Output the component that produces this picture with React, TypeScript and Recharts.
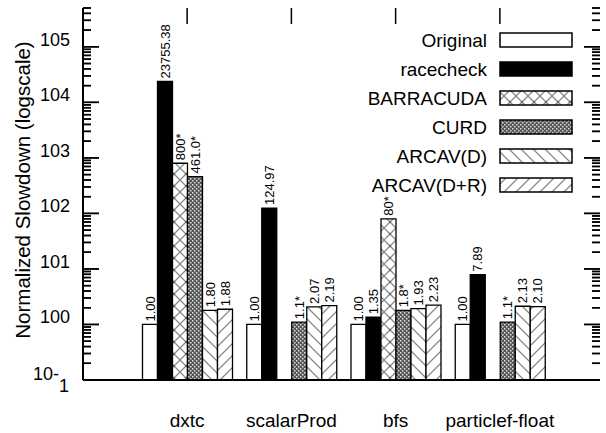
import React from 'react';
import * as Recharts from 'recharts';
import { BarChart, Bar, XAxis, YAxis, LabelList, ReferenceLine, ReferenceDot } from 'recharts';

const R: any = Recharts;

const categories = ['dxtc', 'scalarProd', 'bfs', 'particlef-float'];
const seriesNames = ['Original', 'racecheck', 'BARRACUDA', 'CURD', 'ARCAV(D)', 'ARCAV(D+R)'];
const seriesKeys = ['original', 'racecheck', 'barracuda', 'curd', 'arcavD', 'arcavDR'];

const original = [1.0, 1.0, 1.0, 1.0];
const racecheck = [23755.38, 124.97, 1.35, 7.89];
const barracuda = [800, null, 80, null];
const curd = [461.0, 1.1, 1.8, 1.1];
const arcavD = [1.8, 2.07, 1.93, 2.13];
const arcavDR = [1.88, 2.19, 2.23, 2.1];

const originalLabels = ['1.00', '1.00', '1.00', '1.00'];
const racecheckLabels = ['23755.38', '124.97', '1.35', '7.89'];
const barracudaLabels = ['800*', '', '80*', ''];
const curdLabels = ['461.0*', '1.1*', '1.8*', '1.1*'];
const arcavDLabels = ['1.80', '2.07', '1.93', '2.13'];
const arcavDRLabels = ['1.88', '2.19', '2.23', '2.10'];

const majorTicks = [0.1, 1, 10, 100, 1000, 10000, 100000];
const majorExponents = ['-1', '0', '1', '2', '3', '4', '5'];
const minorMultipliers = [2, 3, 4, 5, 6, 7, 8, 9];
const yDomain = [0.1, 500000];

const allTicks: number[] = [];
majorTicks.forEach((m) => {
  allTicks.push(m);
  minorMultipliers.forEach((k) => {
    const v = m * k;
    if (v <= yDomain[1] + 1e-9) allTicks.push(Number(v.toPrecision(6)));
  });
});

const data = categories.map((c, i) => ({
  cat: c,
  original: original[i],
  racecheck: racecheck[i],
  barracuda: barracuda[i],
  curd: curd[i],
  arcavD: arcavD[i],
  arcavDR: arcavDR[i],
  originalLabel: originalLabels[i],
  racecheckLabel: racecheckLabels[i],
  barracudaLabel: barracudaLabels[i],
  curdLabel: curdLabels[i],
  arcavDLabel: arcavDLabels[i],
  arcavDRLabel: arcavDRLabels[i],
}));

const FONT = '"Liberation Sans", Arial, Helvetica, sans-serif';
const fills = ['#ffffff', '#000000', 'url(#pBarracuda)', 'url(#pCurd)', 'url(#pArcavD)', 'url(#pArcavDR)'];

const CHART_W = 606;
const CHART_H = 433;
const MARGIN = { top: 8, right: 6, bottom: 0, left: 0 };
const Y_AXIS_W = 83;
const X_AXIS_H = 53;
const PLOT_LEFT = MARGIN.left + Y_AXIS_W;
const PLOT_RIGHT = CHART_W - MARGIN.right;
const PLOT_TOP = MARGIN.top;
const PLOT_BOTTOM = CHART_H - MARGIN.bottom - X_AXIS_H;

const num = (a: any, b: any) => {
  const n = Number(a);
  return Number.isFinite(n) ? n : Number(b);
};

const axisLineStyle = { stroke: '#000', strokeWidth: 2 };

const isMajorValue = (v: number) => majorTicks.some((m) => Math.abs(m - v) / m < 1e-6);

const TickPair = ({ y, len }: { y: number; len: number }) => (
  <g>
    <rect x={PLOT_LEFT} y={y - 0.75} width={len} height={1.5} fill="#000" />
    <rect x={PLOT_RIGHT - len} y={y - 0.75} width={len} height={1.5} fill="#000" />
  </g>
);

// y-axis tick marks placed by Recharts' own y scale through ReferenceDot
const makeDotTick = (len: number) => (props: any) => {
  const cy = Number(props.cy);
  if (!Number.isFinite(cy)) return <g />;
  return <TickPair y={cy} len={len} />;
};
const MajorDotTick = makeDotTick(16);
const MinorDotTick = makeDotTick(8);

// Second path: library hooks, when this Recharts version exports them
const noopHook = () => undefined;
const useYScaleHook = R.useYAxisScale || noopHook;
const HookTicks = () => {
  const scale: any = useYScaleHook(0);
  if (typeof scale !== 'function') return null;
  return (
    <g>
      {allTicks.map((v) => {
        const y = Number(scale(v));
        if (!Number.isFinite(y)) return null;
        return <TickPair key={'h' + v} y={y} len={isMajorValue(v) ? 16 : 8} />;
      })}
    </g>
  );
};

const TopXTick = (props: any) => {
  const x = Number(props.x1);
  const y1 = Number(props.y1);
  const y2 = Number(props.y2);
  if (!Number.isFinite(x)) return <g />;
  const t = Math.min(y1, y2);
  return <path d={`M${x},${t}V${t + 16}`} stroke="#000" strokeWidth={1.5} fill="none" />;
};

const LeftLabel = (props: any) => {
  const { payload } = props;
  const y = num(props.y, payload && payload.coordinate);
  const v = payload.value;
  const idx = majorTicks.findIndex((m) => Math.abs(m - v) / m < 1e-6);
  if (idx < 0) return null;
  if (majorExponents[idx] === '-1') {
    return (
      <text x={33} y={y} fontSize={18} fontFamily={FONT} fill="#000" textAnchor="start">
        10-<tspan dy={12}>1</tspan>
      </text>
    );
  }
  return (
    <text x={70} y={y - 1} fontSize={18} fontFamily={FONT} fill="#000" textAnchor="end">
      {'10' + majorExponents[idx]}
    </text>
  );
};

const BottomTick = (props: any) => {
  const { payload } = props;
  const x = num(props.x, payload && payload.coordinate);
  return (
    <text x={x} y={PLOT_BOTTOM + 47} fontSize={19} fontFamily={FONT} fill="#000" textAnchor="middle">
      {payload.value}
    </text>
  );
};

const BarLabel = (props: any) => {
  const { x, y, width, value } = props;
  if (!value) return null;
  const cx = Number(x) + Number(width) / 2 + 4.5;
  const ty = Number(y) - 3;
  return (
    <text
      transform={`translate(${cx},${ty}) rotate(-90)`}
      fontSize={13}
      fontFamily={FONT}
      fill="#000"
      textAnchor="start"
    >
      {value}
    </text>
  );
};

const YLabel = () => {
  const cy = (PLOT_TOP + PLOT_BOTTOM) / 2 - 4;
  const cx = 30;
  return (
    <text
      transform={`translate(${cx},${cy}) rotate(-90)`}
      fontSize={20.5}
      fontFamily={FONT}
      fill="#000"
      textAnchor="middle"
    >
      Normalized Slowdown (logscale)
    </text>
  );
};

const LegendBlock = () => (
  <g>
    {seriesNames.map((name, i) => {
      const cy = 40 + i * 29;
      return (
        <g key={name}>
          <text x={487} y={cy + 7} fontSize={19} fontFamily={FONT} fill="#000" textAnchor="end">
            {name}
          </text>
          <rect x={500} y={cy - 7} width={72} height={14} fill={fills[i]} stroke="#000" strokeWidth={1.5} />
        </g>
      );
    })}
  </g>
);

const labelKeys = ['originalLabel', 'racecheckLabel', 'barracudaLabel', 'curdLabel', 'arcavDLabel', 'arcavDRLabel'];

export default function App() {
  return (
    <div style={{ position: 'absolute', left: 0, top: 0, width: CHART_W, height: CHART_H, background: '#fff' }}>
      <BarChart
        width={CHART_W}
        height={CHART_H}
        data={data}
        margin={MARGIN}
        barCategoryGap={7.5}
        barGap={0}
      >
        <defs>
          <pattern id="pBarracuda" patternUnits="userSpaceOnUse" width="12" height="12">
            <rect width="12" height="12" fill="#fff" />
            <path d="M0,0 L12,12 M12,0 L0,12" stroke="#8a8a8a" strokeWidth="1.3" />
            <circle cx="6" cy="6" r="1" fill="#555" />
          </pattern>
          <pattern id="pCurd" patternUnits="userSpaceOnUse" width="4" height="4">
            <rect width="4" height="4" fill="#555" />
            <rect x="0" y="0" width="1.5" height="1.5" fill="#ddd" />
            <rect x="2" y="2" width="1.5" height="1.5" fill="#ddd" />
          </pattern>
          <pattern id="pArcavD" patternUnits="userSpaceOnUse" width="12" height="12">
            <rect width="12" height="12" fill="#fff" />
            <path d="M0,0 L12,12 M-6,6 L6,18 M6,-6 L18,6" stroke="#8a8a8a" strokeWidth="1.3" />
          </pattern>
          <pattern id="pArcavDR" patternUnits="userSpaceOnUse" width="12" height="12">
            <rect width="12" height="12" fill="#fff" />
            <path d="M0,12 L12,0 M-6,6 L6,-6 M6,18 L18,6" stroke="#8a8a8a" strokeWidth="1.3" />
          </pattern>
        </defs>
        <XAxis
          dataKey="cat"
          height={X_AXIS_H}
          padding={{ left: 52, right: 48 }}
          tickLine={false}
          tickSize={0}
          tickMargin={0}
          interval={0}
          axisLine={axisLineStyle}
          tick={<BottomTick />}
        />
        <XAxis
          xAxisId="top"
          orientation="top"
          dataKey="cat"
          height={0}
          padding={{ left: 52, right: 48 }}
          tickLine={false}
          tick={false}
          axisLine={axisLineStyle}
        />
        <YAxis
          type="number"
          scale="log"
          domain={yDomain}
          allowDataOverflow
          ticks={majorTicks}
          interval={0}
          width={Y_AXIS_W}
          tickLine={false}
          tickSize={0}
          tickMargin={0}
          axisLine={axisLineStyle}
          tick={<LeftLabel />}
          label={<YLabel />}
        />
        <YAxis
          yAxisId="right"
          orientation="right"
          type="number"
          scale="log"
          domain={yDomain}
          allowDataOverflow
          width={0}
          tickLine={false}
          tick={false}
          axisLine={axisLineStyle}
        />
        {categories.map((c) => (
          <ReferenceLine key={'xt' + c} x={c} ifOverflow="visible" shape={TopXTick} />
        ))}
        {allTicks.map((v) => (
          <ReferenceDot
            key={'yt' + v}
            x={categories[0]}
            y={v}
            r={1}
            ifOverflow="visible"
            shape={isMajorValue(v) ? MajorDotTick : MinorDotTick}
          />
        ))}
        <HookTicks />
        {seriesKeys.map((k, i) => (
          <Bar
            key={k}
            dataKey={k}
            name={seriesNames[i]}
            fill={fills[i]}
            stroke="#000"
            strokeWidth={1.3}
            isAnimationActive={false}
          >
            <LabelList dataKey={labelKeys[i]} content={<BarLabel />} />
          </Bar>
        ))}
        <LegendBlock />
      </BarChart>
    </div>
  );
}
